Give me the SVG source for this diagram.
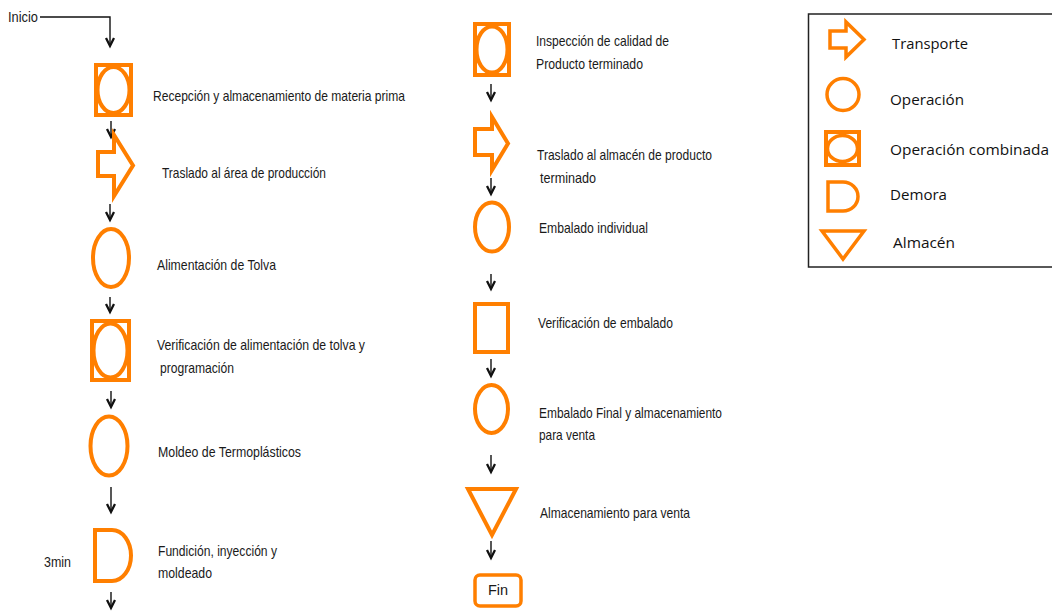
<svg xmlns="http://www.w3.org/2000/svg" width="1052" height="611" viewBox="0 0 1052 611">
<defs>
<marker id="ah" markerUnits="userSpaceOnUse" markerWidth="12" markerHeight="12" refX="9" refY="5" orient="auto">
<path d="M1,1 L9,5 L1,9" fill="none" stroke="#111" stroke-width="2.3"/>
</marker>
</defs>
<style>
.sh{fill:none;stroke:#FF7F00;stroke-width:4}
.thin{fill:none;stroke:#FF7F00;stroke-width:3.5}
.cn{fill:none;stroke:#111;stroke-width:1.4;marker-end:url(#ah)}
.t{font-family:"Liberation Sans",Arial,sans-serif;font-size:14.5px;fill:#1a1a1a}
.lg{font-family:"Open Sans","Liberation Sans",sans-serif;font-size:15px;fill:#111}
</style>
<rect width="1052" height="611" fill="#fff"/>

<g id="connectors">
<path class="cn" d="M40,17 H110 V46"/>
<line class="cn" x1="111" y1="121" x2="111" y2="137"/>
<line class="cn" x1="110" y1="204" x2="110" y2="220"/>
<line class="cn" x1="110" y1="297" x2="110" y2="312"/>
<line class="cn" x1="111" y1="391" x2="111" y2="407"/>
<line class="cn" x1="111" y1="487" x2="111" y2="512"/>
<line class="cn" x1="111" y1="592" x2="111" y2="608"/>
<line class="cn" x1="491" y1="84" x2="491" y2="100"/>
<line class="cn" x1="491" y1="178" x2="491" y2="194"/>
<line class="cn" x1="491" y1="274" x2="491" y2="289"/>
<line class="cn" x1="491" y1="359" x2="491" y2="376"/>
<line class="cn" x1="491" y1="455" x2="491" y2="472"/>
<line class="cn" x1="491" y1="541" x2="491" y2="558"/>
</g>

<g id="inicio">
<text class="t" x="8" y="22" textLength="30" lengthAdjust="spacingAndGlyphs">Inicio</text>
</g>

<g id="n1">
<rect class="sh" x="96" y="65" width="35" height="50"/>
<ellipse class="sh" cx="113.5" cy="90" rx="16" ry="23"/>
<text class="t" x="153" y="101" textLength="252" lengthAdjust="spacingAndGlyphs">Recepción y almacenamiento de materia prima</text>
</g>

<g id="n2">
<polygon class="sh" points="98,152 114,152 114,135 133,165.5 114,196 114,176 98,176"/>
<text class="t" x="162" y="178" textLength="164" lengthAdjust="spacingAndGlyphs">Traslado al área de producción</text>
</g>

<g id="n3">
<ellipse class="sh" cx="111" cy="258" rx="18" ry="29"/>
<text class="t" x="157" y="270" textLength="119" lengthAdjust="spacingAndGlyphs">Alimentación de Tolva</text>
</g>

<g id="n4">
<rect class="sh" x="92" y="321" width="37" height="59"/>
<ellipse class="sh" cx="110.5" cy="350.5" rx="17" ry="27"/>
<text class="t" x="157" y="350" textLength="208" lengthAdjust="spacingAndGlyphs">Verificación de alimentación de tolva y</text>
<text class="t" x="160" y="373" textLength="74" lengthAdjust="spacingAndGlyphs">programación</text>
</g>

<g id="n5">
<ellipse class="sh" cx="109" cy="446" rx="18.5" ry="29.5"/>
<text class="t" x="158" y="457" textLength="143" lengthAdjust="spacingAndGlyphs">Moldeo de Termoplásticos</text>
</g>

<g id="n6">
<path class="sh" d="M95,530 H112 A19,25.5 0 0 1 112,581 H95 Z"/>
<text class="t" x="44" y="567" textLength="27" lengthAdjust="spacingAndGlyphs">3min</text>
<text class="t" x="158" y="556" textLength="119" lengthAdjust="spacingAndGlyphs">Fundición, inyección y</text>
<text class="t" x="158" y="578" textLength="54" lengthAdjust="spacingAndGlyphs">moldeado</text>
</g>

<g id="n7">
<rect class="sh" x="475" y="24" width="34" height="51"/>
<ellipse class="sh" cx="492" cy="49.5" rx="15.5" ry="23"/>
<text class="t" x="536" y="46" textLength="133" lengthAdjust="spacingAndGlyphs">Inspección de calidad  de</text>
<text class="t" x="536" y="69" textLength="107" lengthAdjust="spacingAndGlyphs">Producto terminado</text>
</g>

<g id="n8">
<polygon class="sh" points="475,129 492,129 492,117 508,143.5 492,170 492,155 475,155"/>
<text class="t" x="537" y="160" textLength="175" lengthAdjust="spacingAndGlyphs">Traslado al almacén de producto</text>
<text class="t" x="540" y="183" textLength="56" lengthAdjust="spacingAndGlyphs">terminado</text>
</g>

<g id="n9">
<ellipse class="sh" cx="492" cy="227" rx="17" ry="24.5"/>
<text class="t" x="539" y="233" textLength="109" lengthAdjust="spacingAndGlyphs">Embalado individual</text>
</g>

<g id="n10">
<rect class="sh" x="475" y="304" width="33" height="48"/>
<text class="t" x="538" y="328" textLength="135" lengthAdjust="spacingAndGlyphs">Verificación de embalado</text>
</g>

<g id="n11">
<ellipse class="sh" cx="491.5" cy="409" rx="16.5" ry="24"/>
<text class="t" x="539" y="418" textLength="183" lengthAdjust="spacingAndGlyphs">Embalado Final y almacenamiento</text>
<text class="t" x="539" y="440" textLength="56" lengthAdjust="spacingAndGlyphs">para venta</text>
</g>

<g id="n12">
<polygon class="sh" points="468,489 516,489 492,535"/>
<text class="t" x="540" y="518" textLength="150" lengthAdjust="spacingAndGlyphs">Almacenamiento para venta</text>
</g>

<g id="fin">
<rect class="thin" x="475" y="575" width="46" height="31" rx="5"/>
<text class="t" x="498" y="595" text-anchor="middle" font-size="12">Fin</text>
</g>

<g id="legend">
<rect x="808.5" y="14" width="260" height="253" fill="none" stroke="#222" stroke-width="1.5"/>
<polygon class="thin" points="830,31 846,31 846,22 864,39.5 846,57 846,48 830,48"/>
<text class="lg" x="892" y="49" textLength="76" lengthAdjust="spacingAndGlyphs">Transporte</text>
<ellipse class="thin" cx="843" cy="94.5" rx="16" ry="16"/>
<text class="lg" x="890" y="105" textLength="74" lengthAdjust="spacingAndGlyphs">Operación</text>
<rect class="sh" x="826" y="132" width="33" height="33"/>
<ellipse class="thin" cx="842.5" cy="148.5" rx="15" ry="13"/>
<text class="lg" x="890" y="155" textLength="159" lengthAdjust="spacingAndGlyphs">Operación combinada</text>
<path class="thin" d="M828,182 H843 A15,14.5 0 0 1 843,211 H828 Z"/>
<text class="lg" x="890" y="200" textLength="57" lengthAdjust="spacingAndGlyphs">Demora</text>
<polygon class="thin" points="822,231 864,231 843,259"/>
<text class="lg" x="893" y="248" textLength="62" lengthAdjust="spacingAndGlyphs">Almacén</text>
</g>
</svg>
